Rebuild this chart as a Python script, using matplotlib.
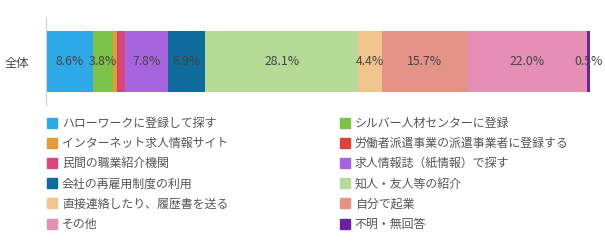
import matplotlib.pyplot as plt
from matplotlib.lines import Line2D

plt.rcParams['font.family'] = ['Noto Sans CJK JP', 'DejaVu Sans']

# データ
categories = ['ハローワークに登録して探す', 'シルバー人材センターに登録',
              'インターネット求人情報サイト', '労働者派遣事業の派遣事業者に登録する',
              '民間の職業紹介機関', '求人情報誌（紙情報）で探す',
              '会社の再雇用制度の利用', '知人・友人等の紹介',
              '直接連絡したり、履歴書を送る', '自分で起業',
              'その他', '不明・無回答']
values = [8.6, 3.8, 0.7, 0.2, 1.3, 7.8, 6.9, 28.1, 4.4, 15.7, 22.0, 0.5]
show_label = [True, True, False, False, False, True, True, True, True, True, True, True]
colors = ['#2eaae8', '#7dc24b', '#e39b3a', '#d9453a', '#d9457f', '#a664de',
          '#0e6b9c', '#b6db96', '#efc48d', '#e59386', '#e58fb4', '#6a22a0']
row_label = '全体'

fig = plt.figure(figsize=(6.05, 2.48), dpi=100)
ax = fig.add_axes([46 / 605, 1 - 105 / 248, 544 / 605, 87 / 248])

left = 0
for v, c, lab in zip(values, colors, show_label):
    ax.barh(0, v, left=left, height=1, color=c)
    if lab:
        ax.text(left + v / 2, 0, f'{v:.1f}%', ha='center', va='center',
                fontsize=8.8, color='#444444')
    left += v

ax.set_xlim(0, 100)
ax.set_ylim(-0.72, 0.72)
ax.set_yticks([0])
ax.set_yticklabels([row_label], fontsize=8.8, color='#444444')
ax.tick_params(axis='y', length=0, pad=12)
ax.set_xticks([])
for s in ['top', 'right', 'bottom']:
    ax.spines[s].set_visible(False)
ax.spines['left'].set_color('#d0d0d0')

# 凡例（行優先の並びにする）
handles = [Line2D([], [], marker='s', linestyle='', markersize=6.5,
                  markerfacecolor=c, markeredgecolor=c) for c in colors]
order = list(range(0, 12, 2)) + list(range(1, 12, 2))
leg = fig.legend([handles[i] for i in order], [categories[i] for i in order],
                 ncol=2, loc='upper left', bbox_to_anchor=(47 / 605, 1 - 117 / 248),
                 frameon=False, fontsize=8.6, handlelength=0.8, handletextpad=0.45,
                 labelspacing=0.6, columnspacing=9.35, borderaxespad=0, borderpad=0)
for t in leg.get_texts():
    t.set_color('#555555')

plt.savefig('out.png', dpi=100)
